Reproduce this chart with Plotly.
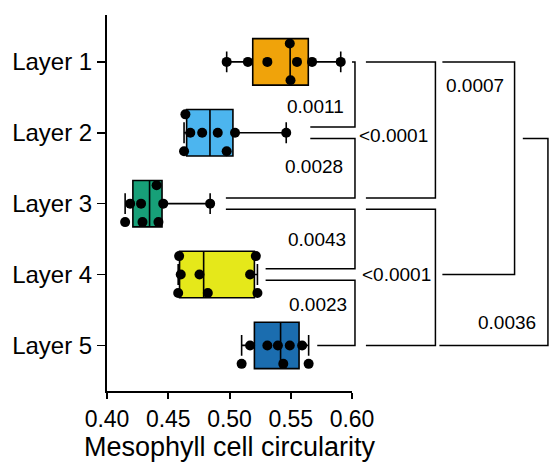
import numpy as np
import plotly.graph_objects as go

# ---------------- data ----------------
layers = ["Layer 1", "Layer 2", "Layer 3", "Layer 4", "Layer 5"]
layer1 = [0.4977, 0.5150, 0.5309, 0.5551, 0.5674, 0.5908, 0.5498, 0.5492]
layer2 = [0.4680, 0.4777, 0.4904, 0.5045, 0.5463, 0.4629, 0.4640, 0.4977]
layer3 = [0.4278, 0.4459, 0.4842, 0.4420, 0.4405, 0.4290, 0.4189, 0.4148]
layer4 = [0.4602, 0.4755, 0.5168, 0.4581, 0.4589, 0.4823, 0.5228, 0.5215]
layer5 = [0.5309, 0.5395, 0.5492, 0.5593, 0.5439, 0.5646, 0.5168, 0.5099]
series = [layer1, layer2, layer3, layer4, layer5]

x_ticks = [0.40, 0.45, 0.50, 0.55, 0.60]
x_tick_labels = ["0.40", "0.45", "0.50", "0.55", "0.60"]
x_title = "Mesophyll cell circularity"

# pairwise comparisons: (layer a, layer b, p-value label)
comparisons = [
    (1, 2, "0.0011"),
    (2, 3, "0.0028"),
    (3, 4, "0.0043"),
    (4, 5, "0.0023"),
    (1, 3, "<0.0001"),
    (3, 5, "<0.0001"),
    (1, 4, "0.0007"),
    (2, 5, "0.0036"),
]

# ---------------- style ----------------
colors = ["#F0A30A", "#4CB5EF", "#17A078", "#E5E81A", "#1B6DAF"]
FONT = "Arial, Liberation Sans, Helvetica, sans-serif"
W, H = 551, 466
Y_RANGE = [5.643, 0.3385]  # reversed: Layer 1 at top
X_RANGE = [0.40, 0.60]

fig = go.Figure()

positions = list(range(1, len(layers) + 1))


def swarm(values, center, sep, step):
    """simple greedy beeswarm: levels 0, +1, -1"""
    placed = []
    ys = []
    for v in values:
        chosen = 0
        for lvl in (0, 1, -1, 2, -2):
            if all(abs(v - pv) >= sep for pv, pl in placed if pl == lvl):
                chosen = lvl
                break
        placed.append((v, chosen))
        ys.append(center + chosen * step)
    return ys


for pos, vals, col in zip(positions, series, colors):
    arr = np.array(vals)
    q1, med, q3 = np.percentile(arr, [25, 50, 75], method="weibull")
    fig.add_trace(go.Box(
        y=[pos], q1=[q1], median=[med], q3=[q3],
        lowerfence=[arr.min()], upperfence=[arr.max()],
        orientation="h", width=0.655, whiskerwidth=0.45,
        fillcolor=col, line=dict(color="black", width=1.6),
        boxpoints=False, showlegend=False, hoverinfo="skip",
    ))

for pos, vals in zip(positions, series):
    ys = swarm(vals, pos, 0.0084, 0.26)
    fig.add_trace(go.Scatter(
        x=vals, y=ys, mode="markers",
        marker=dict(color="black", size=10, line=dict(width=0)),
        showlegend=False, hoverinfo="skip", cliponaxis=False,
    ))


def yp(v):
    return (Y_RANGE[0] - v) / (Y_RANGE[0] - Y_RANGE[1])


def xp(px):
    return (px - 105.3) / 246.7


# bracket geometry (layout): vertical x (px), start x at top & bottom (px),
# y offsets from layer centers, label position
OFF = 0.08
bracket_layout = {
    ("1", "2"): dict(xv=355, xt=352, xb=310, ot=0, ob=-OFF, lx=315.5, ly=1.625),
    ("2", "3"): dict(xv=355, xt=310, xb=225, ot=OFF, ob=-OFF, lx=314, ly=2.478),
    ("3", "4"): dict(xv=355, xt=225, xb=265, ot=OFF, ob=-OFF, lx=317, ly=3.509),
    ("4", "5"): dict(xv=355, xt=265, xb=317, ot=OFF, ob=0, lx=318, ly=4.418),
    ("1", "3"): dict(xv=436, xt=366, xb=366, ot=0, ob=-OFF, lx=394, ly=2.045),
    ("3", "5"): dict(xv=436, xt=366, xb=366, ot=OFF, ob=0, lx=396.5, ly=4.0),
    ("1", "4"): dict(xv=515.7, xt=443, xb=443, ot=0, ob=0, lx=475.5, ly=1.34),
    ("2", "5"): dict(xv=549.3, xt=524, xb=440, ot=OFF, ob=0, lx=508, ly=4.674),
}

shapes = []
annotations = []
for a, b, label in comparisons:
    g = bracket_layout[(str(a), str(b))]
    y1 = yp(a + g["ot"])
    y2 = yp(b + g["ob"])
    path = (f"M {xp(g['xt'])},{y1} L {xp(g['xv'])},{y1} "
            f"L {xp(g['xv'])},{y2} L {xp(g['xb'])},{y2}")
    shapes.append(dict(type="path", xref="paper", yref="paper", path=path,
                       line=dict(color="black", width=1.5)))
    annotations.append(dict(x=xp(g["lx"]), y=g["ly"], xref="paper", yref="y",
                            text=label, showarrow=False,
                            xanchor="center", yanchor="middle",
                            font=dict(family=FONT, size=19, color="black")))

fig.update_layout(
    width=W, height=H,
    margin=dict(l=105, r=199, t=15, b=72),
    plot_bgcolor="white", paper_bgcolor="white",
    font=dict(family=FONT, color="black"),
    shapes=shapes, annotations=annotations,
    showlegend=False,
)
fig.update_xaxes(
    range=X_RANGE, tickvals=x_ticks, ticktext=x_tick_labels,
    showline=True, linecolor="black", linewidth=2,
    ticks="outside", ticklen=6, tickwidth=2, tickcolor="black",
    showgrid=False, zeroline=False,
    tickfont=dict(family=FONT, size=23, color="black"),
    title=dict(text=x_title, font=dict(family=FONT, size=27, color="black"),
               standoff=4),
)
fig.update_yaxes(
    range=Y_RANGE, tickvals=positions, ticktext=layers,
    showline=True, linecolor="black", linewidth=2,
    ticks="outside", ticklen=8, tickwidth=1.5, tickcolor="black",
    showgrid=False, zeroline=False,
    tickfont=dict(family=FONT, size=24, color="black"),
)

fig.write_html(
    "out.html",
    config={"displayModeBar": False, "staticPlot": True},
    post_script="document.body.style.margin='0';document.body.style.overflow='hidden';",
)
